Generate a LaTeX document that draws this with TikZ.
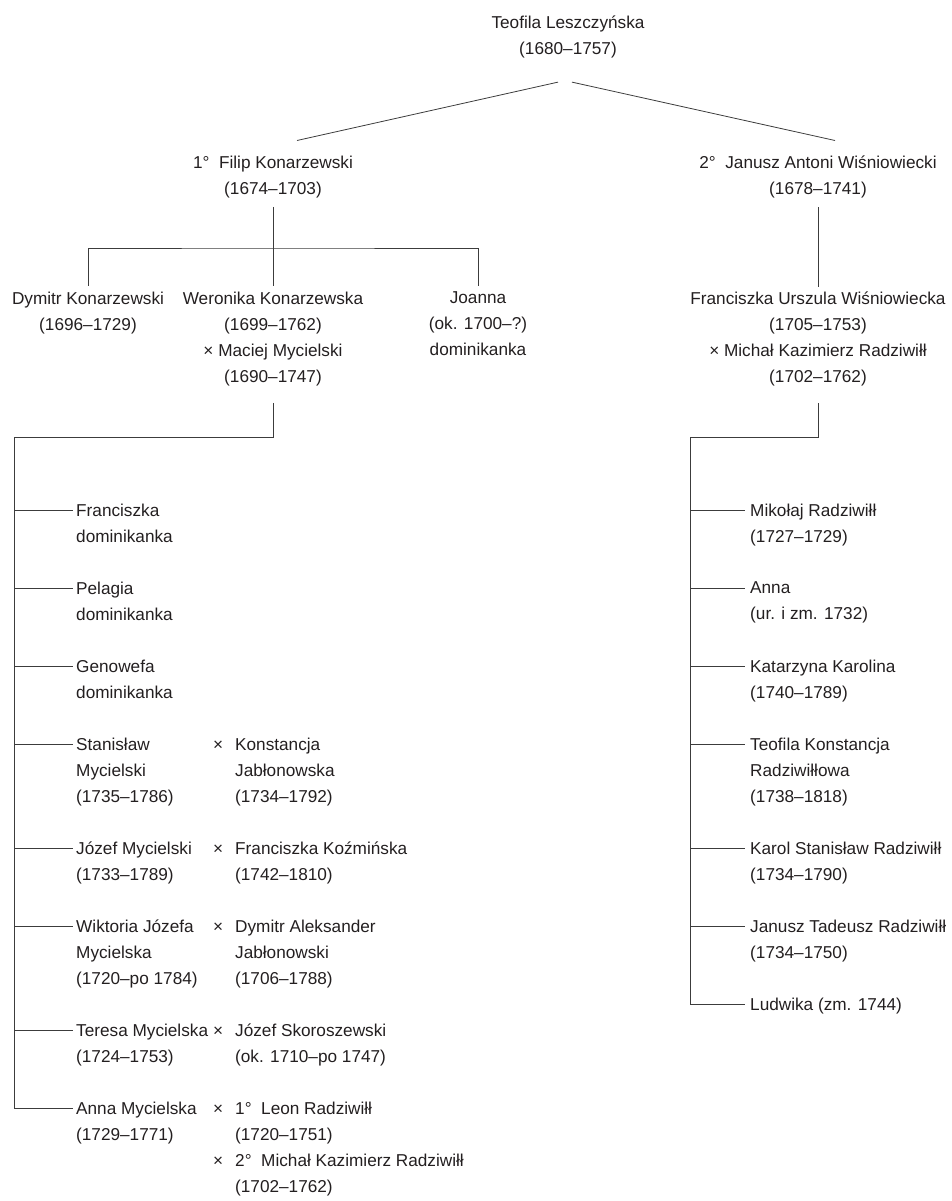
\documentclass[tikz,border=0pt]{standalone}
\usepackage{fontspec}
\setmainfont{Liberation Sans}
\usetikzlibrary{calc}
\definecolor{kinText}{RGB}{35,31,32}
\definecolor{kinLine}{RGB}{60,60,60}
\newcommand{\wedx}{\makebox[22pt][l]{×}}
\newcommand{\wedpad}{\hspace*{22pt}}
\tikzset{
    person/.style={
        align=center,
        inner sep=0pt,
        anchor=north,
        yshift=12.5pt,
        text=kinText,
        font=\fontsize{17.2}{26}\selectfont
    },
    kidbox/.style={
        person,
        align=left,
        anchor=north west
    },
    kinline/.style={draw=kinLine, line width=0.8pt}
}

\begin{document}
\begin{tikzpicture}[x=1pt, y=-1pt]
    \useasboundingbox (0,0) rectangle (952,1201);
    % first generation
    \node[person] (teofila) at (568,28) {Teofila Leszczyńska\\(1680–1757)};
    \node[person] (filip) at (273,168) {1°~~Filip Konarzewski\\(1674–1703)};
    \node[person] (janusz) at (818,168) {2°~~Janusz Antoni Wiśniowiecki\\(1678–1741)};
    \draw[kinline] ($(teofila.south)+(-10,24)$) -- ($(filip.north)+(24,-15)$);
    \draw[kinline] ($(teofila.south)+(4,24)$) -- ($(janusz.north)+(17,-15)$);
    % children of Filip
    \node[person] (dymitr) at (88,304) {Dymitr Konarzewski\\(1696–1729)};
    \node[person] (weronika) at (273,304) {Weronika Konarzewska\\(1699–1762)\\× Maciej Mycielski\\(1690–1747)};
    \node[person] (joanna) at (478,304) {Joanna\\(ok. 1700–?)\\dominikanka};
    \coordinate (filipbar) at (273,248);
    \draw[kinline] ($(filip.south)+(0,9)$) -- ($(weronika.north)+(0,-6)$);
    \draw[kinline] ($(dymitr.north)+(0,-6)$) |- (filipbar) -| ($(joanna.north)+(0,-6)$);
    % child of Janusz
    \node[person] (furszula) at (818,304) {Franciszka Urszula Wiśniowiecka\\(1705–1753)\\× Michał Kazimierz Radziwiłł\\(1702–1762)};
    \draw[kinline] ($(janusz.south)+(0,9)$) -- ($(furszula.north)+(0,-5)$);

    % Mycielski children
    \node[kidbox] (franciszka) at (76,516) {Franciszka\\dominikanka};
    \node[kidbox] (pelagia) at (76,594) {Pelagia\\dominikanka};
    \node[kidbox] (genowefa) at (76,672) {Genowefa\\dominikanka};
    \node[kidbox] (stanislaw) at (76,750) {Stanisław\\Mycielski\\(1735–1786)};
    \node[kidbox] (jozef) at (76,854) {Józef Mycielski\\(1733–1789)};
    \node[kidbox] (wiktoria) at (76,932) {Wiktoria Józefa\\Mycielska\\(1720–po 1784)};
    \node[kidbox] (teresa) at (76,1036) {Teresa Mycielska\\(1724–1753)};
    \node[kidbox] (anna) at (76,1114) {Anna Mycielska\\(1729–1771)};
    \node[kidbox] (konstancja) at (213,750) {\wedx Konstancja\\\wedpad Jabłonowska\\\wedpad(1734–1792)};
    \node[kidbox] (kozminska) at (213,854) {\wedx Franciszka Koźmińska\\\wedpad(1742–1810)};
    \node[kidbox] (jablonowski) at (213,932) {\wedx Dymitr Aleksander\\\wedpad Jabłonowski\\\wedpad(1706–1788)};
    \node[kidbox] (skoroszewski) at (213,1036) {\wedx Józef Skoroszewski\\\wedpad(ok. 1710–po 1747)};
    \node[kidbox] (annawed) at (213,1114) {\wedx 1°~~Leon Radziwiłł\\\wedpad(1720–1751)\\\wedx 2°~~Michał Kazimierz Radziwiłł\\\wedpad(1702–1762)};
    \coordinate (mycbar) at (273,437);
    \draw[kinline] ($(weronika.south)+(0,17)$) -- (mycbar) -| ($(anna.north west)+(-62,6.5)$);
    \foreach \kid in {franciszka,pelagia,genowefa,stanislaw,jozef,wiktoria,teresa,anna}
        \draw[kinline] ($(\kid.north west)+(-62,6.5)$) -- ($(\kid.north west)+(-3,6.5)$);

    % Radziwiłł children
    \node[kidbox] (mikolaj) at (750,516) {Mikołaj Radziwiłł\\(1727–1729)};
    \node[kidbox] (annar) at (750,594) {Anna\\(ur. i zm. 1732)};
    \node[kidbox] (katarzyna) at (750,672) {Katarzyna Karolina\\(1740–1789)};
    \node[kidbox] (teofilak) at (750,750) {Teofila Konstancja\\Radziwiłłowa\\(1738–1818)};
    \node[kidbox] (karol) at (750,854) {Karol Stanisław Radziwiłł\\(1734–1790)};
    \node[kidbox] (januszt) at (750,932) {Janusz Tadeusz Radziwiłł\\(1734–1750)};
    \node[kidbox] (ludwika) at (750,1010) {Ludwika (zm. 1744)};
    \coordinate (radzbar) at (818,437);
    \draw[kinline] ($(furszula.south)+(0,17)$) -- (radzbar) -| ($(ludwika.north west)+(-60,6.5)$);
    \foreach \kid in {mikolaj,annar,katarzyna,teofilak,karol,januszt,ludwika}
        \draw[kinline] ($(\kid.north west)+(-60,6.5)$) -- ($(\kid.north west)+(-5,6.5)$);
\end{tikzpicture}
\end{document}
